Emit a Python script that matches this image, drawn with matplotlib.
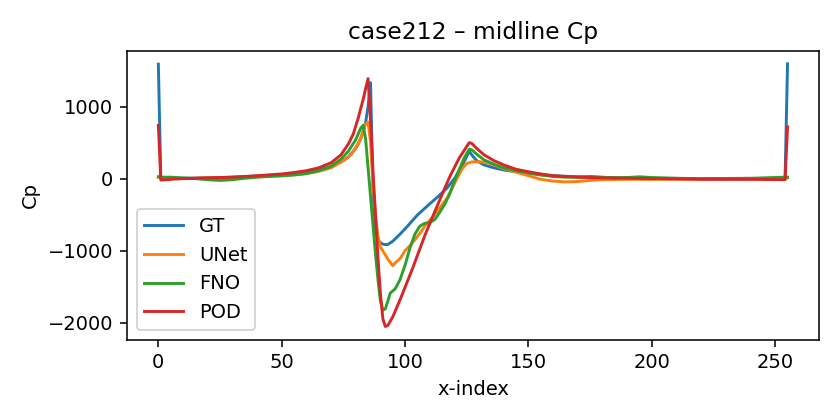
import matplotlib
matplotlib.use("Agg")
import matplotlib.pyplot as plt

# values (x-index, Cp)
gt_x = [0, 1, 10, 20, 30, 40, 50, 55, 60, 65, 70, 74, 77, 80, 82, 84, 85, 86, 87, 88, 89, 90, 91, 92, 93,
        95, 98, 101, 105, 110, 114, 117, 120, 123, 126, 127, 129, 132, 136, 140, 145, 150, 155, 160, 170,
        180, 200, 220, 240, 254, 255]
gt_y = [1590, 0, 5, 10, 20, 35, 55, 70, 90, 120, 170, 230, 300, 420, 550, 780, 1000, 1333, -200, -700, -850,
        -890, -910, -917, -915, -870, -770, -660, -505, -350, -230, -130, 0, 170, 380, 330, 250, 190, 150,
        120, 95, 75, 55, 40, 25, 15, 5, 0, 0, 5, 1595]

unet_x = [0, 1, 10, 20, 30, 40, 50, 60, 65, 70, 75, 78, 81, 83, 84, 85, 86, 87, 88, 89, 90, 92, 93, 95, 96,
          98, 100, 102, 104, 106, 108, 111, 114, 117, 119, 121, 123, 125, 127, 130, 133, 136, 140, 145, 150,
          155, 160, 165, 170, 175, 180, 190, 200, 220, 240, 254, 255]
unet_y = [20, 10, 0, 10, 15, 25, 40, 70, 100, 150, 250, 330, 480, 650, 760, 787, 500, -100, -500, -800, -950,
          -1060, -1120, -1210, -1170, -1110, -1000, -930, -850, -760, -660, -540, -410, -270, -140, 0, 130,
          210, 232, 235, 225, 190, 140, 90, 40, -10, -35, -45, -40, -25, -15, -10, -10, -5, -5, 0, 10]

fno_x = [0, 1, 5, 10, 15, 20, 25, 30, 35, 40, 50, 55, 60, 65, 70, 74, 77, 80, 82, 83, 84, 85, 86, 87, 88, 89,
         90, 91, 92, 93, 94, 96, 98, 100, 102, 104, 106, 108, 110, 112, 114, 116, 118, 120, 122, 124, 126,
         127, 129, 132, 136, 140, 145, 150, 155, 160, 165, 170, 175, 180, 185, 190, 195, 200, 210, 220, 240,
         254, 255]
fno_y = [25, 20, 20, 10, 0, -15, -25, -15, 5, 20, 40, 50, 70, 110, 170, 270, 380, 540, 700, 741, 550, 150,
         -250, -650, -1050, -1400, -1700, -1828, -1810, -1700, -1590, -1530, -1400, -1200, -960, -770, -660,
         -620, -610, -570, -470, -360, -220, -30, 130, 290, 408, 400, 340, 260, 200, 150, 110, 80, 50, 30, 20,
         20, 30, 20, 10, 15, 25, 15, 5, 0, 5, 20, 20]

pod_x = [0, 1, 5, 10, 20, 30, 40, 50, 55, 60, 65, 70, 74, 77, 79, 81, 83, 84, 85, 86, 87, 88, 89, 90, 91, 92,
         93, 95, 98, 103, 108, 113, 118, 122, 126, 127, 129, 132, 136, 140, 145, 150, 155, 160, 170, 180,
         200, 220, 240, 254, 255]
pod_y = [740, -20, -10, 0, 10, 20, 40, 65, 85, 110, 150, 220, 330, 480, 620, 840, 1100, 1250, 1389, 800, 100,
         -500, -1100, -1600, -1950, -2054, -2040, -1920, -1680, -1250, -790, -380, 20, 290, 500, 490, 420,
         330, 250, 190, 130, 95, 65, 40, 20, 10, 0, -10, -10, -15, 718]

fig, ax = plt.subplots(figsize=(6, 3), dpi=140)
ax.plot(gt_x, gt_y, label="GT")
ax.plot(unet_x, unet_y, label="UNet")
ax.plot(fno_x, fno_y, label="FNO")
ax.plot(pod_x, pod_y, label="POD")
ax.set_title("case212 \u2013 midline Cp")
ax.set_xlabel("x-index")
ax.set_ylabel("Cp")
ax.legend(loc="lower left")
fig.tight_layout()
fig.savefig("out.png")
